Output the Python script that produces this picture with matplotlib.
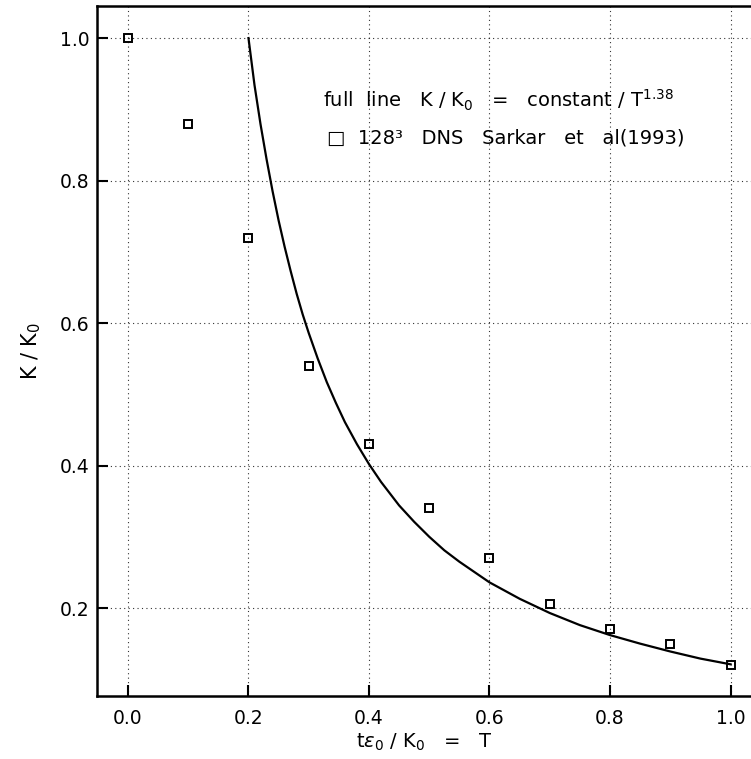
import matplotlib
matplotlib.use("Agg")
from matplotlib import pyplot as plt

# DNS data points (Sarkar et al 1993)
t_dns = [0.0, 0.1, 0.2, 0.3, 0.4, 0.5, 0.6, 0.7, 0.8, 0.9, 1.0]
k_dns = [1.0, 0.88, 0.72, 0.54, 0.43, 0.34, 0.27, 0.205, 0.17, 0.15, 0.12]

# full line
t_line = [0.20, 0.21, 0.22, 0.23, 0.24, 0.25, 0.26, 0.27, 0.28, 0.29, 0.30, 0.315,
          0.33, 0.345, 0.36, 0.38, 0.40, 0.42, 0.45, 0.475, 0.50, 0.525, 0.55,
          0.60, 0.65, 0.70, 0.75, 0.80, 0.85, 0.90, 0.95, 1.00]
k_line = [1.00, 0.934, 0.879, 0.830, 0.785, 0.744, 0.707, 0.673, 0.641, 0.612, 0.586, 0.550,
          0.517, 0.488, 0.461, 0.430, 0.402, 0.377, 0.344, 0.321, 0.300, 0.281, 0.265,
          0.236, 0.213, 0.193, 0.176, 0.162, 0.150, 0.139, 0.129, 0.121]

xticks = [0.0, 0.2, 0.4, 0.6, 0.8, 1.0]
yticks = [0.2, 0.4, 0.6, 0.8, 1.0]

plt.rcParams['font.family'] = ['DejaVu Sans']
plt.rcParams['mathtext.fontset'] = 'dejavusans'

fig = plt.figure(figsize=(7.51, 7.59), dpi=100)
ax = fig.add_axes([0.1298, 0.083, 0.8702, 0.909])

ax.plot(t_line, k_line, color='black', lw=1.6)
ax.plot(t_dns, k_dns, 's', mfc='none', mec='black', ms=6, mew=1.4)

ax.set_xlim(-0.0506, 1.034)
ax.set_ylim(0.0765, 1.0449)
ax.set_xticks(xticks)
ax.set_yticks(yticks)
ax.set_xticklabels(['%.1f' % v for v in xticks])
ax.set_yticklabels(['%.1f' % v for v in yticks])

ax.grid(True, linestyle=(0, (1, 3)), color='black', lw=0.8, alpha=0.8)
ax.tick_params(direction='in', length=8, width=1.5, labelsize=13.5)
ax.tick_params(axis='x', pad=9)
ax.tick_params(axis='y', pad=6)
for s in ['left', 'bottom', 'top']:
    ax.spines[s].set_linewidth(1.8)
ax.spines['right'].set_visible(False)

ax.set_xlabel(r't$\varepsilon_0$ / K$_0$   =   T', fontsize=14, labelpad=3)
ax.set_ylabel(r'K / K$_0$', fontsize=15, labelpad=12)

fig.text(0.430, 0.868, r'full  line   K / K$_0$   =   constant / T$^{1.38}$',
         fontsize=14, va='center')
fig.text(0.436, 0.818, '\u25a1  128\u00b3   DNS   Sarkar   et   al(1993)',
         fontsize=14, va='center')

plt.savefig('out.png', dpi=100)
